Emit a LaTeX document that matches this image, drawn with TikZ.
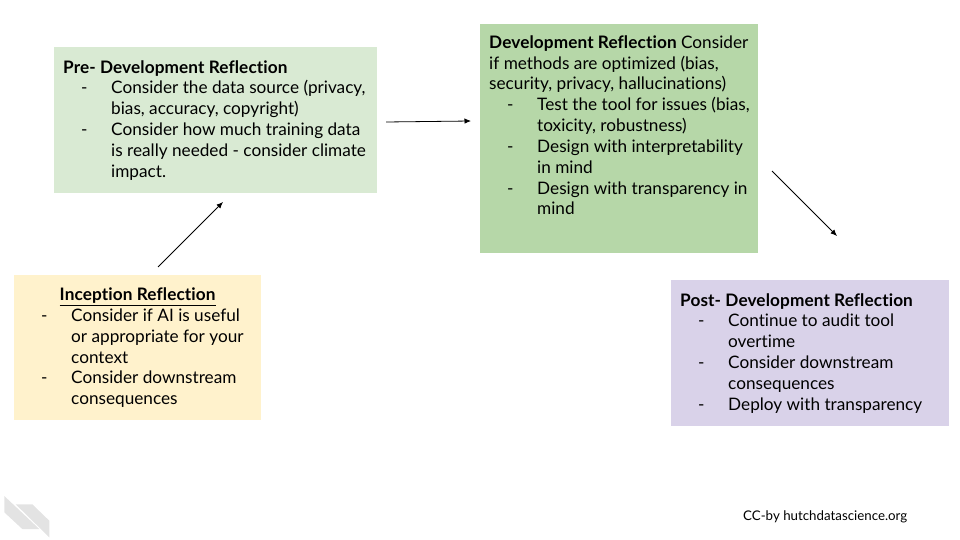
\documentclass[tikz,border=0pt]{standalone}
\usepackage{fontspec}
\usetikzlibrary{arrows.meta}
\setmainfont{Lato}[Ligatures=CommonOff,BoldFeatures={LetterSpace=0.6}]
\definecolor{paleGreen}{HTML}{D9EAD3}
\definecolor{midGreen}{HTML}{B6D7A8}
\definecolor{paleYellow}{HTML}{FFF2CC}
\definecolor{palePurple}{HTML}{D9D2E9}
\definecolor{logoGray}{HTML}{E3E3E3}
\newcommand{\textline}[1]{\par\noindent\mbox{#1}}
\newcommand{\dashline}[1]{\par\noindent\hspace*{18pt}\makebox[30pt][l]{-}\mbox{#1}}
\newcommand{\restline}[1]{\par\noindent\hspace*{48pt}\mbox{#1}}

\begin{document}
\begin{tikzpicture}[x=1pt,y=-1pt]
\tikzset{
  ReflectBox/.style = {anchor=north west, inner xsep=9pt, inner ysep=0pt,
                       font=\fontsize{17.2}{20.85}\selectfont, text=black,
                       execute at begin node={\spaceskip=0pt\xspaceskip=0pt},
                       execute at end node={\par\vspace*{8pt}}},
  StepArrow/.style = {-{Latex[length=6.5pt,width=5.5pt]}, black, line width=0.8pt},
}
  \useasboundingbox (0,0) rectangle (960,540);

  \node[ReflectBox, fill=paleGreen, text width=305pt, minimum height=146pt] (pre) at (54,47)
    {\textline{\textbf{Pre- Development Reflection}}
     \dashline{Consider the data source (privacy,}
     \restline{bias, accuracy, copyright)}
     \dashline{Consider how much training data}
     \restline{is really needed - consider climate}
     \restline{impact.}};

  \node[ReflectBox, fill=midGreen, text width=260pt, minimum height=229pt] (dev) at (480,24)
    {\textline{\textbf{Development Reflection} Consider}
     \textline{if methods are optimized (bias,}
     \textline{security, privacy, hallucinations)}
     \dashline{Test the tool for issues (bias,}
     \restline{toxicity, robustness)}
     \dashline{Design with interpretability}
     \restline{in mind}
     \dashline{Design with transparency in}
     \restline{mind}
     \textline{\strut}};

  \node[ReflectBox, fill=paleYellow, text width=229pt, minimum height=145pt] (inception) at (14,275)
    {\textline{\makebox[229pt][c]{\underline{\textbf{Inception Reflection}}}}
     \dashline{Consider if AI is useful}
     \restline{or appropriate for your}
     \restline{context}
     \dashline{Consider downstream}
     \restline{consequences}};

  \node[ReflectBox, fill=palePurple, text width=260pt, minimum height=146pt] (post) at (671,280)
    {\textline{\textbf{Post- Development Reflection}}
     \dashline{Continue to audit tool}
     \restline{overtime}
     \dashline{Consider downstream}
     \restline{consequences}
     \dashline{Deploy with transparency}};

  \coordinate (inceptionOut) at (158,267);
  \coordinate (preIn) at (223,202);
  \coordinate (preOut) at (386,122);
  \coordinate (devIn) at (471,121);
  \coordinate (devOut) at (772,171);
  \coordinate (postIn) at (837,236);

  \draw[StepArrow] (inceptionOut) -- (preIn);
  \draw[StepArrow] (preOut) -- (devIn);
  \draw[StepArrow] (devOut) -- (postIn);

  \node[anchor=west, inner sep=0pt, font=\fontsize{13.3}{16}\selectfont] (credit) at (743,517)
    {CC-by hutchdatascience.org};

  % logo
  \fill[logoGray] (4.3,496) -- (4.3,512.3) -- (22.3,529) -- (39.3,529) -- cycle;
  \fill[logoGray] (15.7,504.3) -- (32.3,504.3) -- (49.3,520.7) -- (49.3,537.3) -- cycle;

\end{tikzpicture}
\end{document}
